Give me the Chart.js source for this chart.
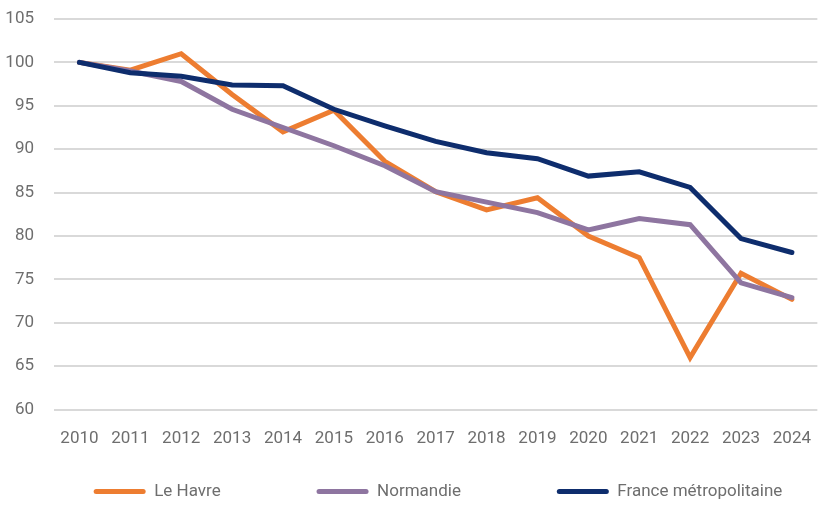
<!DOCTYPE html>
<html>
<head>
<meta charset="utf-8">
<script src="https://cdn.jsdelivr.net/npm/chart.js@4/dist/chart.umd.min.js"></script>
<style>
  body { margin: 0; background: #fff; }
  #wrap { width: 822px; height: 506px; }
</style>
</head>
<body>
<div id="wrap"><canvas id="chart" width="822" height="506"></canvas></div>
<script>
const years = ['2010', '2011', '2012', '2013', '2014', '2015', '2016', '2017', '2018', '2019', '2020', '2021', '2022', '2023', '2024'];
const leHavre = [100, 99.1, 101, 96.3, 92, 94.5, 88.6, 85.1, 83, 84.4, 80, 77.5, 66, 75.7, 72.7];
const normandie = [100, 99, 97.8, 94.6, 92.5, 90.4, 88.1, 85.1, 83.9, 82.7, 80.7, 82, 81.3, 74.6, 72.9];
const france = [100, 98.8, 98.4, 97.4, 97.3, 94.6, 92.7, 90.9, 89.6, 88.9, 86.9, 87.4, 85.6, 79.7, 78.1];

const font = "Roboto, 'Liberation Sans', sans-serif";
const textColor = '#6e6e6e';

function line(label, data, color, order) {
  return {
    label: label,
    data: data,
    borderColor: color,
    backgroundColor: color,
    borderWidth: 5,
    borderCapStyle: 'round',
    pointRadius: 0,
    tension: 0,
    order: order
  };
}

// nudge the legend a little to the right, as in the original
const shiftLegend = {
  id: 'shiftLegend',
  afterLayout(chart) {
    chart.legend.left += 25;
    chart.legend.right += 25;
  }
};

new Chart(document.getElementById('chart'), {
  type: 'line',
  data: {
    labels: years,
    datasets: [
      line('Le Havre', leHavre, '#ed7d31', 2),
      line('Normandie', normandie, '#8e75a0', 1),
      line('France métropolitaine', france, '#0e2d6d', 0)
    ]
  },
  plugins: [shiftLegend],
  options: {
    responsive: false,
    animation: false,
    layout: { padding: { top: 19, right: -4, bottom: -4, left: 0 } },
    scales: {
      x: {
        offset: true,
        afterFit: function(scale) { scale.height += 3; },
        grid: { display: false },
        border: { display: false },
        ticks: { color: textColor, font: { family: font, size: 17 }, padding: 11, maxRotation: 0 }
      },
      y: {
        min: 60,
        max: 105,
        afterFit: function(scale) {
          scale.width = 54;
          scale.paddingTop = 0;
          scale.paddingBottom = 0;
        },
        grid: { color: '#d9d9d9', lineWidth: 2, drawTicks: false },
        border: { display: false },
        ticks: { stepSize: 5, color: textColor, font: { family: font, size: 17 }, padding: 20 }
      }
    },
    plugins: {
      tooltip: { enabled: false },
      legend: {
        position: 'bottom',
        labels: {
          color: textColor,
          font: { family: font, size: 17 },
          textAlign: 'left',
          boxWidth: 52,
          boxHeight: 5,
          useBorderRadius: true,
          borderRadius: 2.5,
          padding: 20,
          sort: (a, b) => a.datasetIndex - b.datasetIndex,
          generateLabels: function(chart) {
            const items = Chart.defaults.plugins.legend.labels.generateLabels(chart);
            items.forEach(it => {
              it.lineWidth = 0;
              // wider gap after the first two entries
              if (it.datasetIndex < 2) it.text = it.text + ' '.repeat(18);
            });
            return items;
          }
        }
      }
    }
  }
});
</script>
</body>
</html>
